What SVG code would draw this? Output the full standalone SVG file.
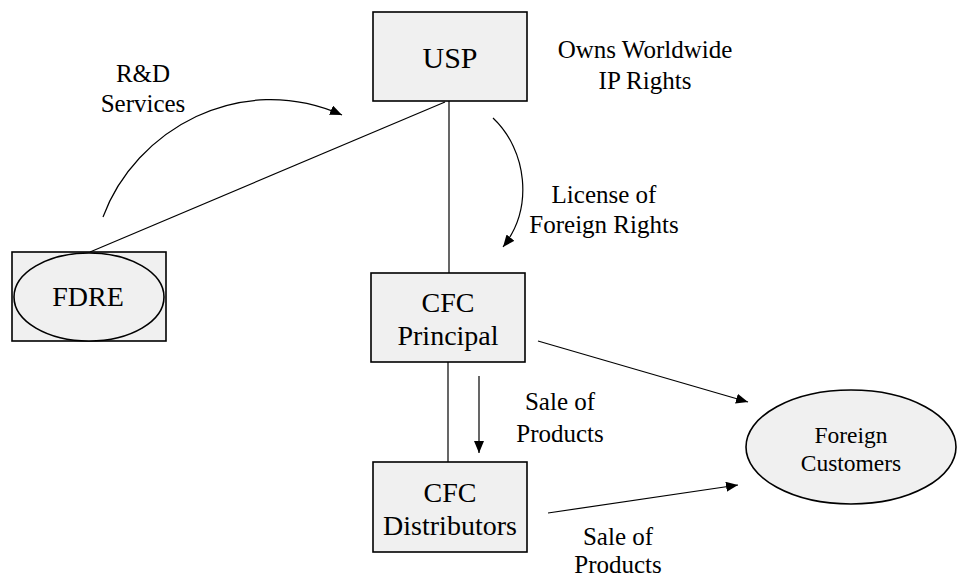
<svg xmlns="http://www.w3.org/2000/svg" width="958" height="579" viewBox="0 0 958 579">
<defs>
<style>
.box{fill:#f0f0f0;stroke:#000;stroke-width:1.6}
.ln{fill:none;stroke:#000;stroke-width:1.2}
.t{font-family:"Liberation Serif","Times New Roman",serif;fill:#000;text-anchor:middle}
.n{font-size:28px}
.l{font-size:25px}
.s{font-size:23.5px}
</style>
<marker id="ah" viewBox="0 0 12 10" refX="12" refY="5" markerWidth="12" markerHeight="10" markerUnits="userSpaceOnUse" orient="auto">
<path d="M0,0 L12,5 L0,10 Z" fill="#000"/>
</marker>
</defs>
<rect width="958" height="579" fill="#fff"/>
<g id="connectors">
<line class="ln" x1="445" y1="102" x2="90" y2="252"/>
<line class="ln" x1="449" y1="101" x2="449" y2="273"/>
<line class="ln" x1="448" y1="362" x2="448" y2="462"/>
<path class="ln" d="M103,217 C135,130 240,70 342,115" marker-end="url(#ah)"/>
<path class="ln" d="M493,118 C527,150 534,208 503,247" marker-end="url(#ah)"/>
<line class="ln" x1="479" y1="376" x2="479" y2="453" marker-end="url(#ah)"/>
<line class="ln" x1="538" y1="341" x2="748" y2="402" marker-end="url(#ah)"/>
<line class="ln" x1="548" y1="513" x2="738" y2="485" marker-end="url(#ah)"/>
</g>
<g id="usp">
<rect class="box" x="373" y="12" width="154" height="89"/>
<text class="t n" x="450" y="68" style="font-size:30px">USP</text>
</g>
<g id="fdre">
<rect class="box" x="12" y="252" width="154" height="89"/>
<ellipse class="box" cx="89" cy="297" rx="75" ry="44"/>
<text class="t n" x="88" y="306">FDRE</text>
</g>
<g id="cfc-principal">
<rect class="box" x="371" y="273" width="154" height="89"/>
<text class="t n" x="448" y="312">CFC</text>
<text class="t n" x="448" y="345">Principal</text>
</g>
<g id="cfc-distributors">
<rect class="box" x="373" y="462" width="154" height="90"/>
<text class="t n" x="450" y="502">CFC</text>
<text class="t n" x="450" y="535">Distributors</text>
</g>
<g id="foreign-customers">
<ellipse class="box" cx="851" cy="447" rx="105" ry="57"/>
<text class="t s" x="851" y="443">Foreign</text>
<text class="t s" x="851" y="471">Customers</text>
</g>
<g id="labels">
<text class="t l" x="645" y="58">Owns Worldwide</text>
<text class="t l" x="645" y="89">IP Rights</text>
<text class="t l" x="143" y="82">R&amp;D</text>
<text class="t l" x="143" y="112">Services</text>
<text class="t l" x="604" y="203">License of</text>
<text class="t l" x="604" y="233">Foreign Rights</text>
<text class="t l" x="560" y="410">Sale of</text>
<text class="t l" x="560" y="442">Products</text>
<text class="t l" x="618" y="545">Sale of</text>
<text class="t l" x="618" y="573">Products</text>
</g>
</svg>
